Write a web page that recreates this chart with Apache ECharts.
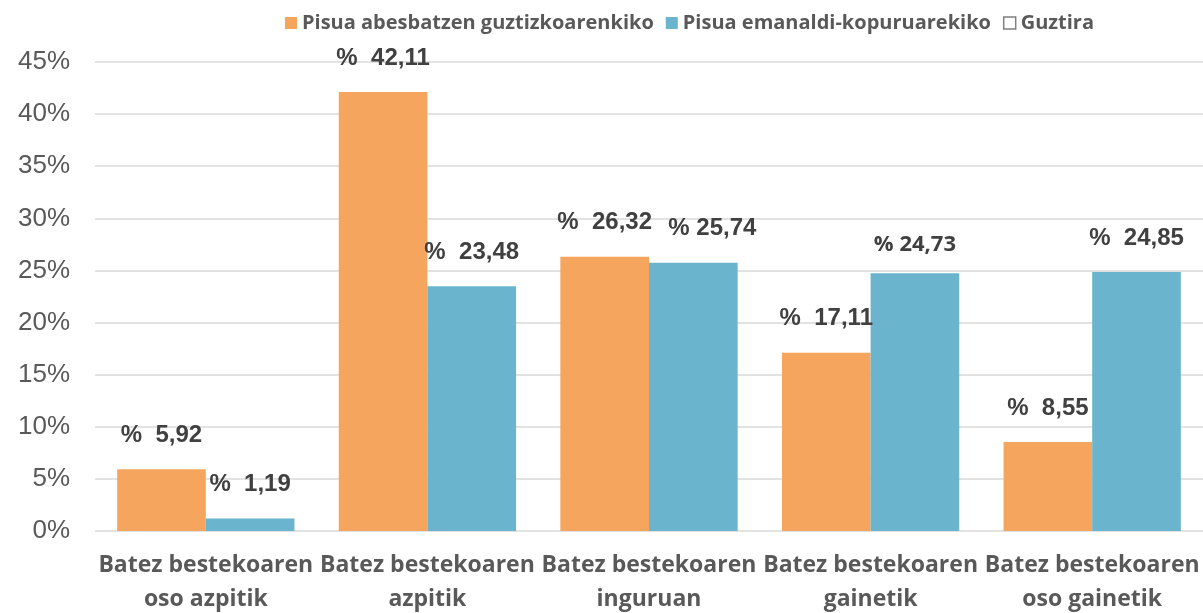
<!DOCTYPE html>
<html>
<head>
<meta charset="utf-8">
<script src="https://cdn.jsdelivr.net/npm/echarts@6/dist/echarts.min.js"></script>
<style>
  html, body { margin: 0; padding: 0; background: #fff; }
  #chart { width: 1203px; height: 613px; }
</style>
</head>
<body>
<div id="chart"></div>
<script>
var categories = [
    'Batez bestekoaren\noso azpitik',
    'Batez bestekoaren\nazpitik',
    'Batez bestekoaren\ninguruan',
    'Batez bestekoaren\ngainetik',
    'Batez bestekoaren\noso gainetik'
];
var abesbatza = [5.92, 42.11, 26.32, 17.11, 8.55];
var emanaldi = [1.19, 23.48, 25.74, 24.73, 24.85];
var yTicks = [0, 5, 10, 15, 20, 25, 30, 35, 40, 45];

var myChart = echarts.init(document.getElementById('chart'));

function fmt(v, gap) {
    return '%' + gap + v.toFixed(2).replace('.', ',');
}

var labelStyle = {
    show: true,
    position: 'top',
    distance: 22,
    formatter: function (p) { return fmt(p.value, '  '); },
    color: '#404040',
    fontFamily: 'Liberation Sans',
    fontWeight: 'bold',
    fontSize: 24
};

// a few labels in the original were nudged / typed differently
var emanaldiData = emanaldi.map(function (v, i) {
    if (i === 2) {
        return {value: v, label: {offset: [19, 0], formatter: fmt(v, ' ')}};
    }
    if (i === 3) {
        return {value: v, label: {formatter: fmt(v, ' '), fontFamily: 'Open Sans', fontSize: 22, distance: 18}};
    }
    return v;
});

var option = {
    animation: false,
    legend: {
        top: 8,
        left: 280,
        itemWidth: 12,
        itemHeight: 12,
        itemGap: 12,
        icon: 'rect',
        textStyle: {
            color: '#595959',
            fontFamily: 'Open Sans',
            fontWeight: 'bold',
            fontSize: 20
        },
        data: [
            {name: 'Pisua abesbatzen guztizkoarenkiko'},
            {name: 'Pisua emanaldi-kopuruarekiko'},
            {name: 'Guztira', itemStyle: {color: '#fff', borderColor: '#7f7f7f', borderWidth: 1.5}}
        ]
    },
    grid: {
        left: 95,
        right: 0,
        top: 62,
        bottom: 82,
        outerBoundsMode: 'none'
    },
    xAxis: {
        type: 'category',
        data: categories,
        axisLine: {show: false},
        axisTick: {show: false},
        axisLabel: {
            interval: 0,
            margin: 17,
            color: '#595959',
            fontFamily: 'Open Sans',
            fontWeight: 'bold',
            fontSize: 23,
            lineHeight: 34
        }
    },
    yAxis: {
        type: 'value',
        min: 0,
        max: 45,
        interval: 5,
        axisLine: {show: false},
        axisTick: {show: false},
        axisLabel: {
            margin: 25,
            color: '#595959',
            fontFamily: 'Liberation Sans',
            fontSize: 26,
            formatter: function (v) { return yTicks.indexOf(v) >= 0 ? v + '%' : ''; }
        },
        splitLine: {lineStyle: {color: '#d9d9d9', width: 1.5}}
    },
    series: [
        {
            name: 'Pisua abesbatzen guztizkoarenkiko',
            type: 'bar',
            data: abesbatza,
            barGap: '0%',
            barCategoryGap: '20%',
            itemStyle: {color: '#F6A55E'},
            label: labelStyle
        },
        {
            name: 'Pisua emanaldi-kopuruarekiko',
            type: 'bar',
            data: emanaldiData,
            itemStyle: {color: '#6AB4CE'},
            label: labelStyle
        },
        {
            // empty total series, only shown in the legend
            name: 'Guztira',
            type: 'line',
            data: [],
            itemStyle: {color: '#fff', borderColor: '#7f7f7f'}
        }
    ]
};

myChart.setOption(option);
</script>
</body>
</html>
